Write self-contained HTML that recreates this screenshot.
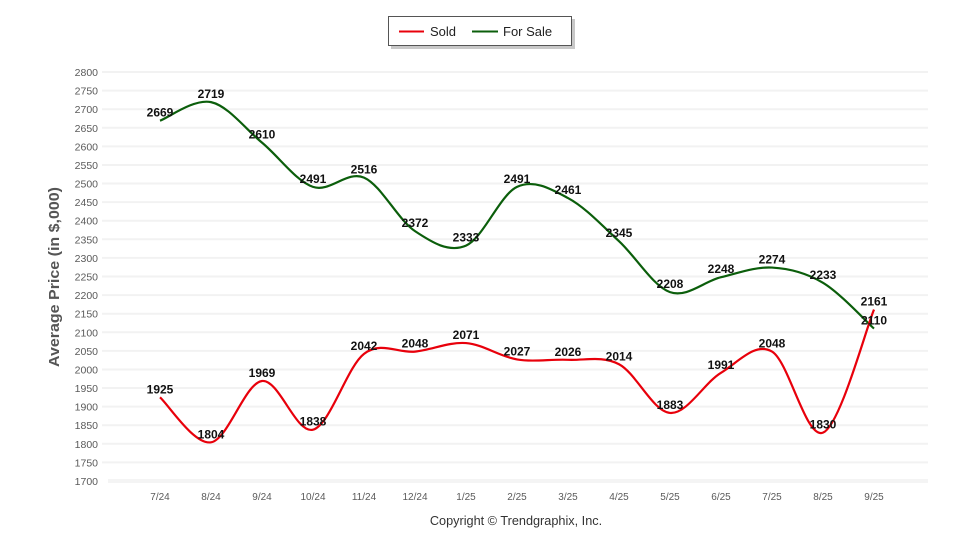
<!DOCTYPE html>
<html><head><meta charset="utf-8"><style>
html,body{margin:0;padding:0;background:#fff;}
svg{display:block;}
</style></head><body>
<svg width="960" height="550" viewBox="0 0 960 550" xmlns="http://www.w3.org/2000/svg">
<rect width="960" height="550" fill="#fff"/>
<!-- legend -->
<rect x="391" y="19" width="184" height="30" fill="#c8c8c8"/>
<rect x="388.5" y="16.5" width="183" height="29" fill="#fff" stroke="#555" stroke-width="1"/>
<line x1="399" y1="31.5" x2="424" y2="31.5" stroke="#e8000b" stroke-width="2"/>
<text x="430" y="36" font-family="Liberation Sans, sans-serif" font-size="13" fill="#222">Sold</text>
<line x1="472" y1="31.5" x2="498" y2="31.5" stroke="#0b5e0b" stroke-width="2"/>
<text x="503" y="36" font-family="Liberation Sans, sans-serif" font-size="13" fill="#222">For Sale</text>
<!-- gridlines -->
<g stroke="#f2f2f2" stroke-width="2">
<line x1="102" y1="72" x2="928" y2="72"/>
<line x1="102" y1="90.6" x2="928" y2="90.6"/>
<line x1="102" y1="109.2" x2="928" y2="109.2"/>
<line x1="102" y1="127.8" x2="928" y2="127.8"/>
<line x1="102" y1="146.4" x2="928" y2="146.4"/>
<line x1="102" y1="165" x2="928" y2="165"/>
<line x1="102" y1="183.5" x2="928" y2="183.5"/>
<line x1="102" y1="202.1" x2="928" y2="202.1"/>
<line x1="102" y1="220.7" x2="928" y2="220.7"/>
<line x1="102" y1="239.3" x2="928" y2="239.3"/>
<line x1="102" y1="257.9" x2="928" y2="257.9"/>
<line x1="102" y1="276.5" x2="928" y2="276.5"/>
<line x1="102" y1="295.1" x2="928" y2="295.1"/>
<line x1="102" y1="313.7" x2="928" y2="313.7"/>
<line x1="102" y1="332.3" x2="928" y2="332.3"/>
<line x1="102" y1="350.9" x2="928" y2="350.9"/>
<line x1="102" y1="369.5" x2="928" y2="369.5"/>
<line x1="102" y1="388" x2="928" y2="388"/>
<line x1="102" y1="406.6" x2="928" y2="406.6"/>
<line x1="102" y1="425.2" x2="928" y2="425.2"/>
<line x1="102" y1="443.8" x2="928" y2="443.8"/>
<line x1="102" y1="462.4" x2="928" y2="462.4"/>
</g>
<rect x="108" y="479" width="820" height="4" fill="#f4f4f4"/>
<!-- y tick labels -->
<g font-family="Liberation Sans, sans-serif" font-size="10.5" fill="#5a5a5a" text-anchor="end">
<text x="98" y="76">2800</text>
<text x="98" y="94.6">2750</text>
<text x="98" y="113.2">2700</text>
<text x="98" y="131.8">2650</text>
<text x="98" y="150.4">2600</text>
<text x="98" y="169">2550</text>
<text x="98" y="187.5">2500</text>
<text x="98" y="206.1">2450</text>
<text x="98" y="224.7">2400</text>
<text x="98" y="243.3">2350</text>
<text x="98" y="261.9">2300</text>
<text x="98" y="280.5">2250</text>
<text x="98" y="299.1">2200</text>
<text x="98" y="317.7">2150</text>
<text x="98" y="336.3">2100</text>
<text x="98" y="354.9">2050</text>
<text x="98" y="373.5">2000</text>
<text x="98" y="392">1950</text>
<text x="98" y="410.6">1900</text>
<text x="98" y="429.2">1850</text>
<text x="98" y="447.8">1800</text>
<text x="98" y="466.4">1750</text>
<text x="98" y="485">1700</text>
</g>
<!-- x tick labels -->
<g font-family="Liberation Sans, sans-serif" font-size="10" fill="#5a5a5a" text-anchor="middle">
<text x="160" y="500">7/24</text>
<text x="211" y="500">8/24</text>
<text x="262" y="500">9/24</text>
<text x="313" y="500">10/24</text>
<text x="364" y="500">11/24</text>
<text x="415" y="500">12/24</text>
<text x="466" y="500">1/25</text>
<text x="517" y="500">2/25</text>
<text x="568" y="500">3/25</text>
<text x="619" y="500">4/25</text>
<text x="670" y="500">5/25</text>
<text x="721" y="500">6/25</text>
<text x="772" y="500">7/25</text>
<text x="823" y="500">8/25</text>
<text x="874" y="500">9/25</text>
</g>
<!-- axis title -->
<text transform="translate(59,277) rotate(-90)" text-anchor="middle" font-family="Liberation Sans, sans-serif" font-size="15" font-weight="bold" fill="#555" textLength="180" lengthAdjust="spacingAndGlyphs">Average Price (in $,000)</text>
<!-- copyright -->
<text x="516" y="525" text-anchor="middle" font-family="Liberation Sans, sans-serif" font-size="12.7" fill="#333">Copyright © Trendgraphix, Inc.</text>
<!-- For Sale line -->
<path fill="none" stroke="#0b5e0b" stroke-width="2.2" d="M160,120.71 C168.5,117.61 194,98.46 211,102.12 C228,105.78 245,128.52 262,142.65 C279,156.78 296,181.06 313,186.89 C330,192.72 347,170.22 364,177.60 C381,184.98 398,219.80 415,231.14 C432,242.48 449,253.02 466,245.64 C483,238.26 500,194.82 517,186.89 C534,178.96 551,189.00 568,198.05 C585,207.10 602,225.50 619,241.18 C636,256.86 653,286.11 670,292.12 C687,298.13 704,281.33 721,277.24 C738,273.15 755,266.65 772,267.58 C789,268.51 806,272.66 823,282.82 C840,292.98 865.5,320.94 874,328.56"/>
<!-- Sold line -->
<path fill="none" stroke="#e8000b" stroke-width="2.2" d="M160,397.34 C168.5,404.84 194,445.06 211,442.33 C228,439.60 245,383.09 262,380.98 C279,378.87 296,434.21 313,429.69 C330,425.17 347,366.85 364,353.84 C381,340.83 398,353.41 415,351.61 C432,349.81 449,341.76 466,343.06 C483,344.36 500,356.63 517,359.42 C534,362.21 551,358.98 568,359.79 C585,360.60 602,355.39 619,364.25 C636,373.11 653,411.53 670,412.96 C687,414.39 704,383.03 721,372.80 C738,362.57 755,341.63 772,351.61 C789,361.59 806,439.67 823,432.67 C840,425.67 865.5,330.10 874,309.59"/>
<!-- data labels -->
<g font-family="Liberation Sans, sans-serif" font-size="12" font-weight="bold" fill="#111" text-anchor="middle">
<text x="160" y="116.7">2669</text>
<text x="211" y="98.1">2719</text>
<text x="262" y="138.6">2610</text>
<text x="313" y="182.9">2491</text>
<text x="364" y="173.6">2516</text>
<text x="415" y="227.1">2372</text>
<text x="466" y="241.6">2333</text>
<text x="517" y="182.9">2491</text>
<text x="568" y="194">2461</text>
<text x="619" y="237.2">2345</text>
<text x="670" y="288.1">2208</text>
<text x="721" y="273.2">2248</text>
<text x="772" y="263.6">2274</text>
<text x="823" y="278.8">2233</text>
<text x="874" y="324.6">2110</text>
<text x="160" y="393.3">1925</text>
<text x="211" y="438.3">1804</text>
<text x="262" y="377">1969</text>
<text x="313" y="425.7">1838</text>
<text x="364" y="349.8">2042</text>
<text x="415" y="347.6">2048</text>
<text x="466" y="339.1">2071</text>
<text x="517" y="355.4">2027</text>
<text x="568" y="355.8">2026</text>
<text x="619" y="360.3">2014</text>
<text x="670" y="409">1883</text>
<text x="721" y="368.8">1991</text>
<text x="772" y="347.6">2048</text>
<text x="823" y="428.7">1830</text>
<text x="874" y="305.6">2161</text>
</g>
</svg>
</body></html>
